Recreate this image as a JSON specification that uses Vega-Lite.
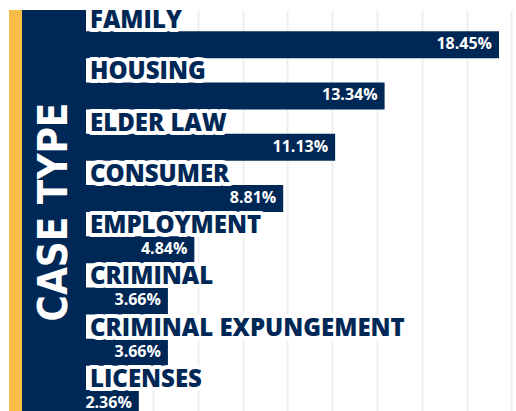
{
  "$schema": "https://vega.github.io/schema/vega-lite/v6.json",
  "padding": {"left": 9, "top": 9, "right": 0, "bottom": 0},
  "background": "white",
  "spacing": 0,
  "bounds": "flush",
  "config": {"view": {"stroke": null}, "concat": {"spacing": 0}},
  "datasets": {
    "cases": [
      {"type": "FAMILY", "pct": 18.45},
      {"type": "HOUSING", "pct": 13.34},
      {"type": "ELDER LAW", "pct": 11.13},
      {"type": "CONSUMER", "pct": 8.81},
      {"type": "EMPLOYMENT", "pct": 4.84},
      {"type": "CRIMINAL", "pct": 3.66},
      {"type": "CRIMINAL EXPUNGEMENT", "pct": 3.66},
      {"type": "LICENSES", "pct": 2.36}
    ],
    "title": [{"t": "CASE TYPE"}]
  },
  "hconcat": [
    {
      "width": 13,
      "height": 410,
      "view": {"fill": "#F8BD47", "stroke": null},
      "data": {"name": "title"},
      "mark": {"type": "text", "text": ""}
    },
    {
      "width": 64,
      "height": 410,
      "view": {"fill": "#002856", "stroke": null},
      "data": {"name": "title"},
      "mark": {
        "type": "text",
        "angle": 270,
        "align": "center",
        "baseline": "middle",
        "font": "DejaVu Sans Condensed",
        "fontWeight": "bold",
        "fontSize": 40,
        "color": "white",
        "dy": 1,
        "dx": 3
      },
      "encoding": {"text": {"field": "t"}}
    },
    {
      "width": 430,
      "height": 410,
      "data": {"name": "cases"},
      "transform": [{"calculate": "format(datum.pct, '.2f') + '%'", "as": "label"}],
      "encoding": {
        "y": {
          "field": "type",
          "type": "nominal",
          "sort": null,
          "scale": {"paddingInner": 0, "paddingOuter": 0},
          "axis": null
        }
      },
      "layer": [
        {
          "mark": {"type": "bar", "color": "#002856", "height": 27, "yOffset": 9},
          "encoding": {
            "x": {
              "field": "pct",
              "type": "quantitative",
              "scale": {"domain": [0, 19.21], "nice": false, "zero": true},
              "axis": {
                "values": [1,2,3,4,5,6,7,8,9,10,11,12,13,14,15,16,17,18,19],
                "grid": true,
                "gridColor": "#efefef",
                "gridWidth": 2,
                "labels": false,
                "ticks": false,
                "domain": false,
                "title": null
              }
            }
          }
        },
        {
          "mark": {
            "type": "text",
            "align": "left",
            "baseline": "alphabetic",
            "dx": 4,
            "yOffset": -7.6,
            "font": "Open Sans",
            "fontWeight": 800,
            "fontSize": 24,
            "fill": "white",
            "stroke": "white",
            "strokeWidth": 8,
            "strokeJoin": "round"
          },
          "encoding": {"x": {"datum": 0}, "text": {"field": "type"}}
        },
        {
          "mark": {
            "type": "text",
            "align": "left",
            "baseline": "alphabetic",
            "dx": 4,
            "yOffset": -7.6,
            "font": "Open Sans",
            "fontWeight": 800,
            "fontSize": 24,
            "color": "#002856"
          },
          "encoding": {"x": {"datum": 0}, "text": {"field": "type"}}
        },
        {
          "mark": {
            "type": "text",
            "align": "right",
            "baseline": "alphabetic",
            "dx": -7,
            "yOffset": 13.4,
            "font": "Open Sans",
            "fontWeight": "bold",
            "fontSize": 16,
            "color": "white"
          },
          "encoding": {
            "x": {"field": "pct", "type": "quantitative"},
            "text": {"field": "label"}
          }
        }
      ]
    }
  ]
}
